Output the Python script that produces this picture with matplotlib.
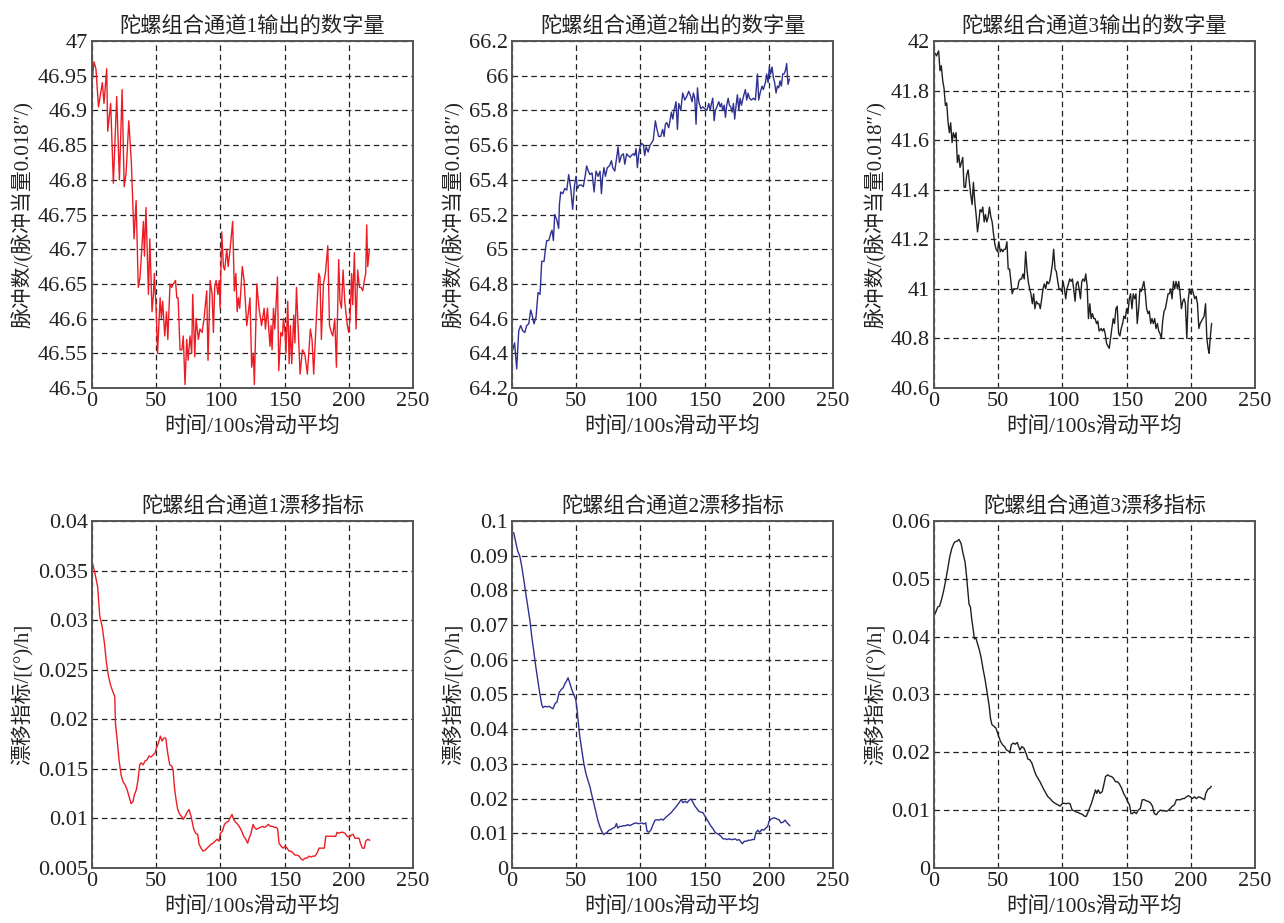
import matplotlib
matplotlib.use("Agg")
import matplotlib.pyplot as plt
from matplotlib.ticker import FuncFormatter

plt.rcParams['font.family'] = ['Liberation Serif', 'Noto Sans CJK SC']

# readings: (time index, value)
ch1_out = [(0, 46.94), (1.5, 46.97), (3, 46.96), (5, 46.905), (8, 46.94), (9.3, 46.91), (11.4, 46.96),
           (12.2, 46.87), (14.5, 46.91), (16.6, 46.795), (19.2, 46.92), (21.3, 46.80), (23.4, 46.93),
           (25, 46.79), (26.5, 46.81), (28.6, 46.885), (30.6, 46.825), (32.7, 46.715), (34.3, 46.77),
           (36, 46.645), (37.4, 46.66), (40, 46.74), (40.8, 46.69), (42, 46.76), (43.9, 46.635),
           (45, 46.715), (46.7, 46.61), (47.8, 46.635), (48.5, 46.665), (50, 46.61), (51, 46.55),
           (53, 46.63), (54, 46.60), (55, 46.625), (56.6, 46.575), (58, 46.61), (59, 46.57),
           (60.7, 46.65), (62, 46.645), (63.3, 46.65), (65, 46.655), (66, 46.63), (67, 46.63),
           (68.5, 46.555), (70, 46.555), (71, 46.575), (72.4, 46.505), (73.7, 46.57), (74.8, 46.54),
           (76.3, 46.575), (77.6, 46.55), (78.4, 46.635), (80, 46.545), (81, 46.60), (82.8, 46.57),
           (84, 46.585), (85.7, 46.58), (87.2, 46.60), (89.3, 46.64), (90.3, 46.54), (92, 46.655),
           (93.5, 46.635), (94.5, 46.58), (95.5, 46.645), (96.6, 46.655), (98, 46.635), (99, 46.655),
           (99.7, 46.615), (101, 46.725), (102.3, 46.675), (103.3, 46.67), (104.9, 46.70),
           (106, 46.675), (107.5, 46.70), (109.5, 46.74), (110.8, 46.64), (112, 46.665), (113, 46.61),
           (114, 46.63), (115, 46.615), (117, 46.675), (118.4, 46.655), (120.5, 46.59), (121.8, 46.61),
           (123, 46.63), (124.3, 46.53), (125.6, 46.55), (126.4, 46.505), (128.3, 46.65),
           (130, 46.615), (132, 46.59), (134, 46.615), (135, 46.585), (136.6, 46.615), (137.6, 46.585),
           (138.6, 46.56), (139.4, 46.59), (140.2, 46.555), (141.3, 46.615), (142.3, 46.585),
           (144.4, 46.66), (145.4, 46.525), (147, 46.58), (148.3, 46.575), (149, 46.60), (150.3, 46.58),
           (151, 46.55), (152.4, 46.625), (153.5, 46.535), (154.5, 46.59), (155.5, 46.535),
           (157.1, 46.605), (158, 46.565), (159.2, 46.645), (160.4, 46.59), (162, 46.52),
           (163.8, 46.555), (165.6, 46.55), (167.7, 46.52), (170, 46.585), (171.3, 46.57),
           (172.6, 46.52), (174.4, 46.59), (176.5, 46.665), (177.5, 46.66), (178.6, 46.57),
           (180.2, 46.65), (181.7, 46.665), (183.6, 46.705), (184.9, 46.59), (186.4, 46.58),
           (187.5, 46.575), (189, 46.60), (190.3, 46.53), (192.1, 46.685), (193.1, 46.625),
           (194.2, 46.615), (195.5, 46.67), (196.8, 46.625), (198.8, 46.59), (199.9, 46.58),
           (200.9, 46.60), (202.2, 46.665), (203, 46.62), (204.3, 46.695), (205.6, 46.585),
           (206.9, 46.67), (208.2, 46.645), (209.5, 46.645), (210.8, 46.64), (212.1, 46.655),
           (213.1, 46.665), (213.9, 46.735), (214.7, 46.675), (216, 46.70)]

ch2_out = [(0.5, 64.42), (2, 64.46), (3.6, 64.31), (5.2, 64.53), (6.7, 64.56), (8.3, 64.53), (9.9, 64.52),
           (11.4, 64.56), (13, 64.57), (14.5, 64.65), (15.6, 64.62), (17.1, 64.57), (18.7, 64.61),
           (20.2, 64.75), (21.8, 64.74), (23.1, 64.93), (24.9, 64.93), (26, 65.00), (27, 65.05),
           (28.6, 65.05), (30.1, 65.09), (31.1, 65.11), (32.2, 65.05), (33.2, 65.20), (34.8, 65.17),
           (36.3, 65.12), (36.9, 65.26), (37.9, 65.33), (39.5, 65.32), (41, 65.35), (42.6, 65.34),
           (44.1, 65.43), (45.7, 65.35), (47.2, 65.23), (48.5, 65.36), (49.8, 65.42), (50.9, 65.35),
           (52.4, 65.37), (54, 65.37), (55.5, 65.36), (57.1, 65.43), (58.1, 65.48), (59.4, 65.45),
           (60.7, 65.43), (62.3, 65.44), (63.9, 65.33), (65.4, 65.45), (67, 65.42), (68.5, 65.45),
           (69.6, 65.32), (70.6, 65.42), (71.6, 65.47), (72.7, 65.42), (74.2, 65.47), (75.8, 65.48),
           (77.4, 65.51), (78.4, 65.47), (80, 65.45), (81.5, 65.53), (82.6, 65.59), (83.6, 65.50),
           (85.2, 65.54), (86.7, 65.55), (87.8, 65.49), (89.3, 65.55), (90.3, 65.54), (91.9, 65.53),
           (92.9, 65.54), (94.5, 65.55), (95.5, 65.54), (96.6, 65.58), (97.6, 65.47), (98.7, 65.55),
           (99.7, 65.59), (101, 65.61), (102.3, 65.60), (103.3, 65.54), (104.4, 65.59), (106, 65.56),
           (107.5, 65.60), (108.5, 65.61), (110, 65.63), (111.6, 65.74), (112.6, 65.70),
           (114.2, 65.65), (115.8, 65.65), (117.3, 65.69), (118.4, 65.65), (119.4, 65.72),
           (120.5, 65.73), (122, 65.70), (123, 65.74), (124.1, 65.79), (125.2, 65.75), (126.2, 65.80),
           (127.7, 65.85), (128.8, 65.69), (129.8, 65.84), (131.4, 65.80), (132.9, 65.90),
           (134.5, 65.86), (136, 65.88), (137.6, 65.91), (139.1, 65.88), (140.2, 65.85), (141.2, 65.90),
           (142.3, 65.87), (143.3, 65.72), (144.4, 65.93), (145.4, 65.85), (147, 65.81), (148.5, 65.82),
           (150.1, 65.81), (151.7, 65.80), (153.2, 65.84), (154.3, 65.80), (155.3, 65.84),
           (156.3, 65.87), (157.4, 65.74), (158.4, 65.80), (159.5, 65.82), (161, 65.85), (162.1, 65.82),
           (163.1, 65.84), (164.1, 65.80), (165.2, 65.83), (166.2, 65.76), (167.2, 65.83),
           (168.3, 65.87), (169.3, 65.83), (170.3, 65.82), (171.4, 65.79), (172.4, 65.84),
           (173.4, 65.75), (174.5, 65.83), (175.5, 65.89), (176.6, 65.80), (177.6, 65.87),
           (178.7, 65.83), (180.2, 65.88), (181.7, 65.92), (182.8, 65.86), (183.8, 65.90),
           (184.9, 65.87), (186.4, 65.86), (188, 65.87), (189.5, 65.86), (191.1, 66.01), (192.1, 65.86),
           (193.2, 65.90), (194.7, 65.94), (195.7, 65.92), (197.3, 65.96), (198.3, 66.01),
           (199.4, 65.96), (200.4, 66.05), (201.4, 66.01), (202.5, 66.05), (203.5, 65.99),
           (204.5, 65.96), (205.6, 65.90), (206.6, 65.94), (207.7, 65.93), (208.7, 65.97),
           (209.7, 65.94), (210.8, 66.01), (211.8, 66.01), (212.9, 66.03), (213.9, 66.07),
           (214.9, 65.95), (216, 65.98)]

ch3_out = [(0, 41.95), (1, 41.95), (2, 41.94), (3.6, 41.96), (4.7, 41.88), (5.7, 41.90), (6.8, 41.84),
           (7.8, 41.81), (8.9, 41.74), (9.9, 41.75), (11, 41.67), (12, 41.63), (13, 41.67), (14.1, 41.59),
           (15.1, 41.63), (16.2, 41.61), (17.2, 41.63), (18.2, 41.51), (19.3, 41.54), (20.3, 41.49),
           (21.4, 41.51), (22.4, 41.53), (23.4, 41.41), (24.5, 41.41), (25.5, 41.46), (26.6, 41.48),
           (27.6, 41.43), (28.6, 41.38), (29.7, 41.34), (30.7, 41.43), (31.8, 41.35), (32.8, 41.30),
           (33.9, 41.23), (34.9, 41.27), (35.9, 41.32), (37, 41.31), (38, 41.33), (39.1, 41.27),
           (40.1, 41.30), (41.1, 41.27), (42.2, 41.29), (43.2, 41.33), (44.3, 41.29), (45.3, 41.27),
           (46.4, 41.22), (47.4, 41.18), (48.4, 41.16), (49.5, 41.15), (50.5, 41.19), (51.6, 41.15),
           (52.6, 41.16), (53.6, 41.15), (54.7, 41.16), (55.7, 41.16), (56.8, 41.19), (57.8, 41.08),
           (58.9, 41.08), (59.9, 41.03), (60.9, 40.98), (62, 41.00), (63, 41.00), (64.1, 41.00),
           (65.1, 41.00), (66.1, 41.03), (67.2, 41.04), (68.2, 41.04), (69.3, 41.06), (70.3, 41.04),
           (71.4, 41.15), (72.4, 41.08), (73.4, 41.03), (74.5, 41.00), (75.5, 40.98), (76.6, 40.94),
           (77.6, 40.98), (78.6, 40.92), (79.7, 40.95), (80.7, 40.94), (81.8, 40.94), (82.8, 40.92),
           (83.9, 40.96), (84.9, 41.00), (85.9, 41.02), (87, 41.00), (88, 41.03), (89.1, 41.02),
           (90.1, 41.03), (91.1, 41.06), (92.2, 41.10), (93.2, 41.16), (94.3, 41.08), (95.3, 41.07),
           (96.4, 41.03), (97.4, 41.00), (98.4, 41.00), (99.5, 40.99), (100.5, 41.03), (101.6, 41.00),
           (102.6, 40.96), (103.6, 41.00), (104.7, 41.02), (105.7, 41.04), (106.8, 41.03),
           (107.8, 41.04), (108.8, 41.00), (109.9, 40.95), (110.9, 41.02), (112, 41.03), (113, 41.00),
           (114.1, 40.96), (115.1, 41.03), (116.1, 41.04), (117.2, 41.03), (118.2, 41.06),
           (119.3, 41.01), (120.3, 40.88), (121.4, 40.94), (122.4, 40.88), (123.4, 40.90),
           (124.5, 40.88), (125.5, 40.88), (126.6, 40.86), (127.6, 40.87), (128.6, 40.83),
           (130.2, 40.84), (131.2, 40.83), (132.3, 40.84), (133.3, 40.82), (134.4, 40.78),
           (135.4, 40.77), (136.5, 40.76), (137.5, 40.80), (138.5, 40.84), (139.6, 40.88),
           (140.6, 40.86), (141.7, 40.92), (142.7, 40.93), (143.8, 40.82), (144.8, 40.81),
           (145.8, 40.84), (146.9, 40.86), (147.9, 40.89), (149, 40.88), (150, 40.92), (151, 40.90),
           (152.1, 40.96), (153.1, 40.98), (154.2, 40.92), (155.2, 40.98), (156.3, 40.96),
           (157.3, 40.98), (158.3, 40.86), (159.4, 40.92), (160.4, 41.00), (161.5, 40.99),
           (162.5, 41.01), (163.5, 41.03), (164.6, 40.98), (165.6, 40.92), (166.7, 40.90),
           (167.7, 40.91), (168.8, 40.86), (169.8, 40.88), (170.8, 40.86), (171.9, 40.88),
           (172.9, 40.84), (174, 40.86), (175, 40.83), (176, 40.82), (177.1, 40.80), (178.1, 40.87),
           (179.2, 40.91), (180.2, 40.92), (181.3, 40.95), (182.3, 40.98), (183.3, 40.98),
           (184.4, 41.00), (185.4, 40.96), (186.5, 41.03), (187.5, 41.00), (188.5, 41.03),
           (189.6, 41.00), (190.6, 41.03), (191.7, 40.98), (192.7, 40.92), (193.8, 40.95),
           (194.8, 40.96), (195.8, 40.94), (196.9, 40.80), (197.9, 40.95), (199, 41.00), (200, 40.98),
           (201, 41.00), (202.1, 40.98), (203.1, 40.96), (204.2, 40.97), (205.2, 40.94),
           (206.3, 40.84), (207.3, 40.86), (208.3, 40.87), (209.4, 40.88), (210.4, 40.89),
           (211.5, 40.94), (212.5, 40.80), (213.5, 40.76), (214.3, 40.74), (215.1, 40.80),
           (216.2, 40.86)]

ch1_drift = [(0, 0.0358), (0.8, 0.0355), (2.6, 0.0345), (4.4, 0.0333), (6, 0.0304), (7.8, 0.0294),
             (9.6, 0.0277), (11.2, 0.0257), (12.7, 0.0244), (14.3, 0.0235), (16.1, 0.0228),
             (17.7, 0.0223), (18.2, 0.0196), (19.5, 0.0180), (21, 0.0159), (22.6, 0.0144),
             (24.1, 0.0137), (25.7, 0.0134), (27.3, 0.0129), (28.8, 0.0122), (30.4, 0.0115),
             (31.9, 0.0117), (33, 0.0124), (34.5, 0.0129), (35.8, 0.0139), (37.1, 0.0154),
             (38.2, 0.0156), (39.7, 0.0154), (41.3, 0.0158), (42.8, 0.0159), (44.4, 0.0163),
             (46, 0.0162), (47.5, 0.0164), (49.1, 0.0166), (50.1, 0.0171), (51.7, 0.0176),
             (53.2, 0.0183), (54.5, 0.0178), (55.8, 0.0181), (57.4, 0.0181), (58.9, 0.0166),
             (60.5, 0.0154), (62, 0.0153), (63.1, 0.0149), (64.1, 0.0132), (65.4, 0.0119),
             (66.7, 0.0109), (68.3, 0.0104), (69.8, 0.0102), (70.9, 0.0099), (72.4, 0.0102),
             (74, 0.0106), (75.5, 0.0109), (77.1, 0.0102), (78.1, 0.0096), (79.2, 0.0089),
             (80.7, 0.0085), (82.3, 0.0084), (83.3, 0.0074), (84.9, 0.0070), (86.4, 0.0067),
             (88, 0.0068), (89.6, 0.0070), (91.1, 0.0072), (92.7, 0.0074), (94.2, 0.0075),
             (95.8, 0.0077), (97.4, 0.0079), (98.9, 0.0077), (99.9, 0.0085), (101.5, 0.0087),
             (103.1, 0.0094), (104.6, 0.0096), (106.2, 0.0097), (107.7, 0.0101), (109, 0.0104),
             (110.3, 0.0099), (111.9, 0.0096), (113.4, 0.0094), (115, 0.0091), (116.6, 0.0087),
             (118.1, 0.0082), (119.7, 0.0079), (121.2, 0.0075), (122.3, 0.0080), (123.8, 0.0085),
             (125.4, 0.0094), (126.4, 0.0091), (128, 0.0089), (129.5, 0.0090), (131.1, 0.0091),
             (132.7, 0.0092), (134.2, 0.0091), (135.8, 0.0092), (137.3, 0.0094), (138.9, 0.0092),
             (140.4, 0.0092), (142, 0.0091), (143.6, 0.0091), (144.6, 0.0089), (145.6, 0.0075),
             (147.2, 0.0072), (148.8, 0.0070), (150.3, 0.0072), (151.9, 0.0070), (153.4, 0.0067),
             (155, 0.0067), (156.5, 0.0065), (158.1, 0.0063), (159.7, 0.0063), (161.2, 0.0062),
             (162.8, 0.0059), (164.3, 0.0058), (165.9, 0.0060), (167.4, 0.0060), (169, 0.0062),
             (170.6, 0.0061), (172.1, 0.0062), (173.7, 0.0062), (175.2, 0.0065), (176.8, 0.0070),
             (178.4, 0.0070), (179.9, 0.0070), (180.9, 0.0070), (182, 0.0082), (183.5, 0.0082),
             (185.1, 0.0082), (186.7, 0.0082), (188.2, 0.0082), (189.8, 0.0082), (190.8, 0.0086),
             (192.4, 0.0085), (193.9, 0.0086), (195.5, 0.0086), (197, 0.0085), (198.6, 0.0082),
             (200.1, 0.0081), (201.7, 0.0083), (203.3, 0.0084), (204.8, 0.0080), (206.4, 0.0080),
             (207.9, 0.0080), (209, 0.0075), (210.5, 0.0070), (212.1, 0.0070), (213.1, 0.0077),
             (214.7, 0.0079), (216.2, 0.0078)]

ch2_drift = [(1.3, 0.0966), (2.9, 0.0938), (4.4, 0.0913), (6, 0.0899), (7.5, 0.0870), (9.1, 0.0832),
             (10.6, 0.0793), (12.2, 0.0755), (13.8, 0.0716), (15.3, 0.0668), (16.9, 0.0625),
             (18.4, 0.0582), (20, 0.0543), (21.5, 0.0505), (23.1, 0.0471), (24.1, 0.0462),
             (25.7, 0.0466), (27.3, 0.0464), (28.8, 0.0466), (30.4, 0.0462), (31.9, 0.0459),
             (33.5, 0.0474), (35, 0.0478), (36.6, 0.0505), (38.2, 0.0514), (39.7, 0.0519),
             (41.3, 0.0532), (42.3, 0.0538), (43.6, 0.0548), (44.9, 0.0534), (46.5, 0.0514),
             (48, 0.0500), (49.6, 0.0486), (50.6, 0.0457), (51.7, 0.0418), (52.7, 0.0380),
             (54.3, 0.0341), (55.8, 0.0303), (57.4, 0.0274), (58.9, 0.0255), (60.5, 0.0236),
             (62, 0.0212), (63.6, 0.0188), (65.2, 0.0163), (66.7, 0.0139), (68.3, 0.0120),
             (69.8, 0.0106), (71.4, 0.0096), (72.4, 0.0099), (74, 0.0103), (75.5, 0.0109),
             (77.1, 0.0111), (78.7, 0.0115), (80.2, 0.0118), (81.3, 0.0128), (82.3, 0.0115),
             (83.9, 0.0120), (85.4, 0.0120), (87, 0.0122), (88.5, 0.0122), (90.1, 0.0125),
             (91.6, 0.0122), (93.2, 0.0125), (94.8, 0.0128), (96.3, 0.0130), (97.9, 0.0128),
             (99.4, 0.0128), (101, 0.0130), (102.5, 0.0127), (104.1, 0.0130), (105.1, 0.0106),
             (106.7, 0.0103), (108.3, 0.0111), (109.8, 0.0125), (111.4, 0.0138), (112.9, 0.0139),
             (114.5, 0.0138), (116, 0.0141), (117.6, 0.0138), (119.2, 0.0144), (120.7, 0.0149),
             (122.3, 0.0154), (123.8, 0.0159), (125.4, 0.0166), (126.9, 0.0173), (128.5, 0.0180),
             (130.1, 0.0188), (131.6, 0.0197), (133.2, 0.0188), (134.7, 0.0192), (136.3, 0.0188),
             (137.8, 0.0195), (139.4, 0.0199), (141, 0.0188), (142.5, 0.0178), (144.1, 0.0170),
             (145.6, 0.0163), (147.2, 0.0161), (148.7, 0.0159), (150.3, 0.0149), (151.9, 0.0139),
             (153.4, 0.0130), (155, 0.0120), (156.5, 0.0113), (158.1, 0.0103), (159.7, 0.0099),
             (161.2, 0.0096), (162.8, 0.0091), (164.3, 0.0084), (165.9, 0.0084), (167.4, 0.0082),
             (169, 0.0084), (170.6, 0.0082), (172.1, 0.0082), (173.7, 0.0084), (175.2, 0.0080),
             (176.8, 0.0082), (178.4, 0.0074), (179.4, 0.0070), (180.9, 0.0077), (182.5, 0.0077),
             (184.1, 0.0080), (185.6, 0.0080), (187.2, 0.0082), (188.7, 0.0082), (189.8, 0.0101),
             (191.3, 0.0109), (192.9, 0.0103), (194.5, 0.0111), (196, 0.0109), (197.6, 0.0115),
             (199.1, 0.0120), (200.2, 0.0135), (201.7, 0.0141), (203.3, 0.0144), (204.8, 0.0144),
             (206.4, 0.0141), (207.9, 0.0139), (209.5, 0.0130), (211.1, 0.0132), (212.6, 0.0138),
             (214.2, 0.0130), (216.3, 0.0122)]

ch3_drift = [(0, 0.0436), (1.3, 0.0442), (2.9, 0.0451), (4.4, 0.0453), (6, 0.0465), (7.6, 0.0480),
             (9.1, 0.0497), (10.7, 0.0517), (12.2, 0.0537), (13.8, 0.0552), (15.4, 0.0561),
             (16.4, 0.0564), (18, 0.0565), (19.5, 0.0568), (21.1, 0.0561), (22.7, 0.0543),
             (24.2, 0.0529), (25.3, 0.0506), (26.3, 0.0482), (27.3, 0.0456), (28.4, 0.0451),
             (29.4, 0.0430), (30.5, 0.0413), (31.5, 0.0396), (32.6, 0.0398), (33.6, 0.0390),
             (35.2, 0.0378), (36.7, 0.0364), (38.3, 0.0343), (39.8, 0.0326), (41.4, 0.0303),
             (43, 0.0280), (44, 0.0259), (45.1, 0.0248), (46.6, 0.0245), (48.2, 0.0242),
             (49.2, 0.0236), (50.3, 0.0228), (51.8, 0.0219), (53.4, 0.0213), (54.9, 0.0210),
             (56.5, 0.0204), (58.1, 0.0202), (59.1, 0.0199), (60.2, 0.0213), (61.7, 0.0216),
             (63.3, 0.0214), (64.8, 0.0217), (65.9, 0.0210), (66.9, 0.0204), (68.5, 0.0210),
             (70.1, 0.0207), (71.6, 0.0199), (73.2, 0.0188), (74.7, 0.0187), (76.3, 0.0181),
             (77.9, 0.0170), (79.4, 0.0161), (81, 0.0155), (82.6, 0.0149), (84.1, 0.0142),
             (85.7, 0.0135), (87.2, 0.0129), (88.8, 0.0123), (90.4, 0.0120), (91.9, 0.0116),
             (93.5, 0.0113), (95.1, 0.0111), (96.6, 0.0109), (98.2, 0.0107), (99.7, 0.0111),
             (101.3, 0.0112), (102.9, 0.0111), (104.4, 0.0112), (106, 0.0111), (107.6, 0.0100),
             (109.1, 0.0099), (110.7, 0.0097), (112.2, 0.0096), (113.8, 0.0094), (115.4, 0.0093),
             (116.9, 0.0090), (118.5, 0.0089), (119.5, 0.0094), (121.1, 0.0103), (122.7, 0.0112),
             (124.2, 0.0123), (125.8, 0.0135), (126.8, 0.0129), (127.9, 0.0135), (129.4, 0.0129),
             (131, 0.0132), (132, 0.0141), (133.6, 0.0158), (135.2, 0.0161), (136.7, 0.0159),
             (138.3, 0.0158), (139.8, 0.0155), (141.4, 0.0149), (143, 0.0149), (144.5, 0.0145),
             (146.1, 0.0138), (147.7, 0.0129), (149.2, 0.0123), (150.8, 0.0115), (152.3, 0.0109),
             (153.4, 0.0094), (154.4, 0.0094), (156, 0.0097), (157.6, 0.0094), (159.1, 0.0100),
             (160.7, 0.0103), (162.2, 0.0118), (163.8, 0.0118), (165.4, 0.0116), (166.9, 0.0115),
             (168.5, 0.0113), (170.1, 0.0107), (171.6, 0.0094), (173.2, 0.0092), (174.7, 0.0097),
             (176.3, 0.0100), (177.9, 0.0099), (179.4, 0.0099), (181, 0.0098), (182.6, 0.0100),
             (184.1, 0.0103), (185.7, 0.0107), (187.2, 0.0109), (188.8, 0.0118), (190.4, 0.0118),
             (191.9, 0.0118), (193.5, 0.0120), (195, 0.0120), (196.6, 0.0123), (198.2, 0.0125),
             (199.7, 0.0123), (201.3, 0.0120), (202.9, 0.0123), (204.4, 0.0120), (206, 0.0123),
             (207.6, 0.0122), (209.1, 0.0120), (210.7, 0.0118), (211.7, 0.0129), (213.3, 0.0136),
             (214.8, 0.0138), (215.9, 0.0141)]

titles = ['陀螺组合通道1输出的数字量', '陀螺组合通道2输出的数字量', '陀螺组合通道3输出的数字量',
          '陀螺组合通道1漂移指标', '陀螺组合通道2漂移指标', '陀螺组合通道3漂移指标']
xlabel = '时间/100s滑动平均'
ylabel_out = '脉冲数/(脉冲当量0.018″/)'
ylabel_drift = '漂移指标/[(°)/h]'

xticks = [0, 50, 100, 150, 200, 250]
yticks = [
    [46.5, 46.55, 46.6, 46.65, 46.7, 46.75, 46.8, 46.85, 46.9, 46.95, 47],
    [64.2, 64.4, 64.6, 64.8, 65, 65.2, 65.4, 65.6, 65.8, 66, 66.2],
    [40.6, 40.8, 41, 41.2, 41.4, 41.6, 41.8, 42],
    [0.005, 0.01, 0.015, 0.02, 0.025, 0.03, 0.035, 0.04],
    [0, 0.01, 0.02, 0.03, 0.04, 0.05, 0.06, 0.07, 0.08, 0.09, 0.1],
    [0, 0.01, 0.02, 0.03, 0.04, 0.05, 0.06],
]

series = [ch1_out, ch2_out, ch3_out, ch1_drift, ch2_drift, ch3_drift]
colors = ['#ed1c24', '#2e3192', '#231f20', '#ed1c24', '#2e3192', '#231f20']

fig = plt.figure(figsize=(12.84, 9.23), dpi=100)

lefts = [0.0717, 0.3988, 0.7274]
bottoms = [0.5796, 0.0596]
w, h = 0.250, 0.376

for i in range(6):
    r, c = divmod(i, 3)
    ax = fig.add_axes([lefts[c], bottoms[r], w, h])
    xs, ys = zip(*series[i])
    ax.plot(xs, ys, color=colors[i], lw=1.0)

    ax.set_xlim(0, 250)
    ax.set_ylim(yticks[i][0], yticks[i][-1])
    ax.set_xticks(xticks)
    ax.set_yticks(yticks[i])
    ax.yaxis.set_major_formatter(FuncFormatter(lambda v, p: '%g' % round(v, 4)))
    ax.grid(True, color='#222222', linestyle=(0, (4.5, 3.0)), linewidth=0.9)

    ax.tick_params(direction='in', length=0, labelsize=16, colors='#222222', pad=3)
    for s in ax.spines.values():
        s.set_color('#555555')
        s.set_linewidth(1.4)

    ax.set_title(titles[i], fontsize=15.3, pad=7, color='#222222')
    ax.set_xlabel(xlabel, fontsize=15.5, color='#222222', labelpad=4)
    ax.set_ylabel(ylabel_out if r == 0 else ylabel_drift, fontsize=15,
                  color='#222222', labelpad=3)

fig.savefig('out.png', dpi=100)
